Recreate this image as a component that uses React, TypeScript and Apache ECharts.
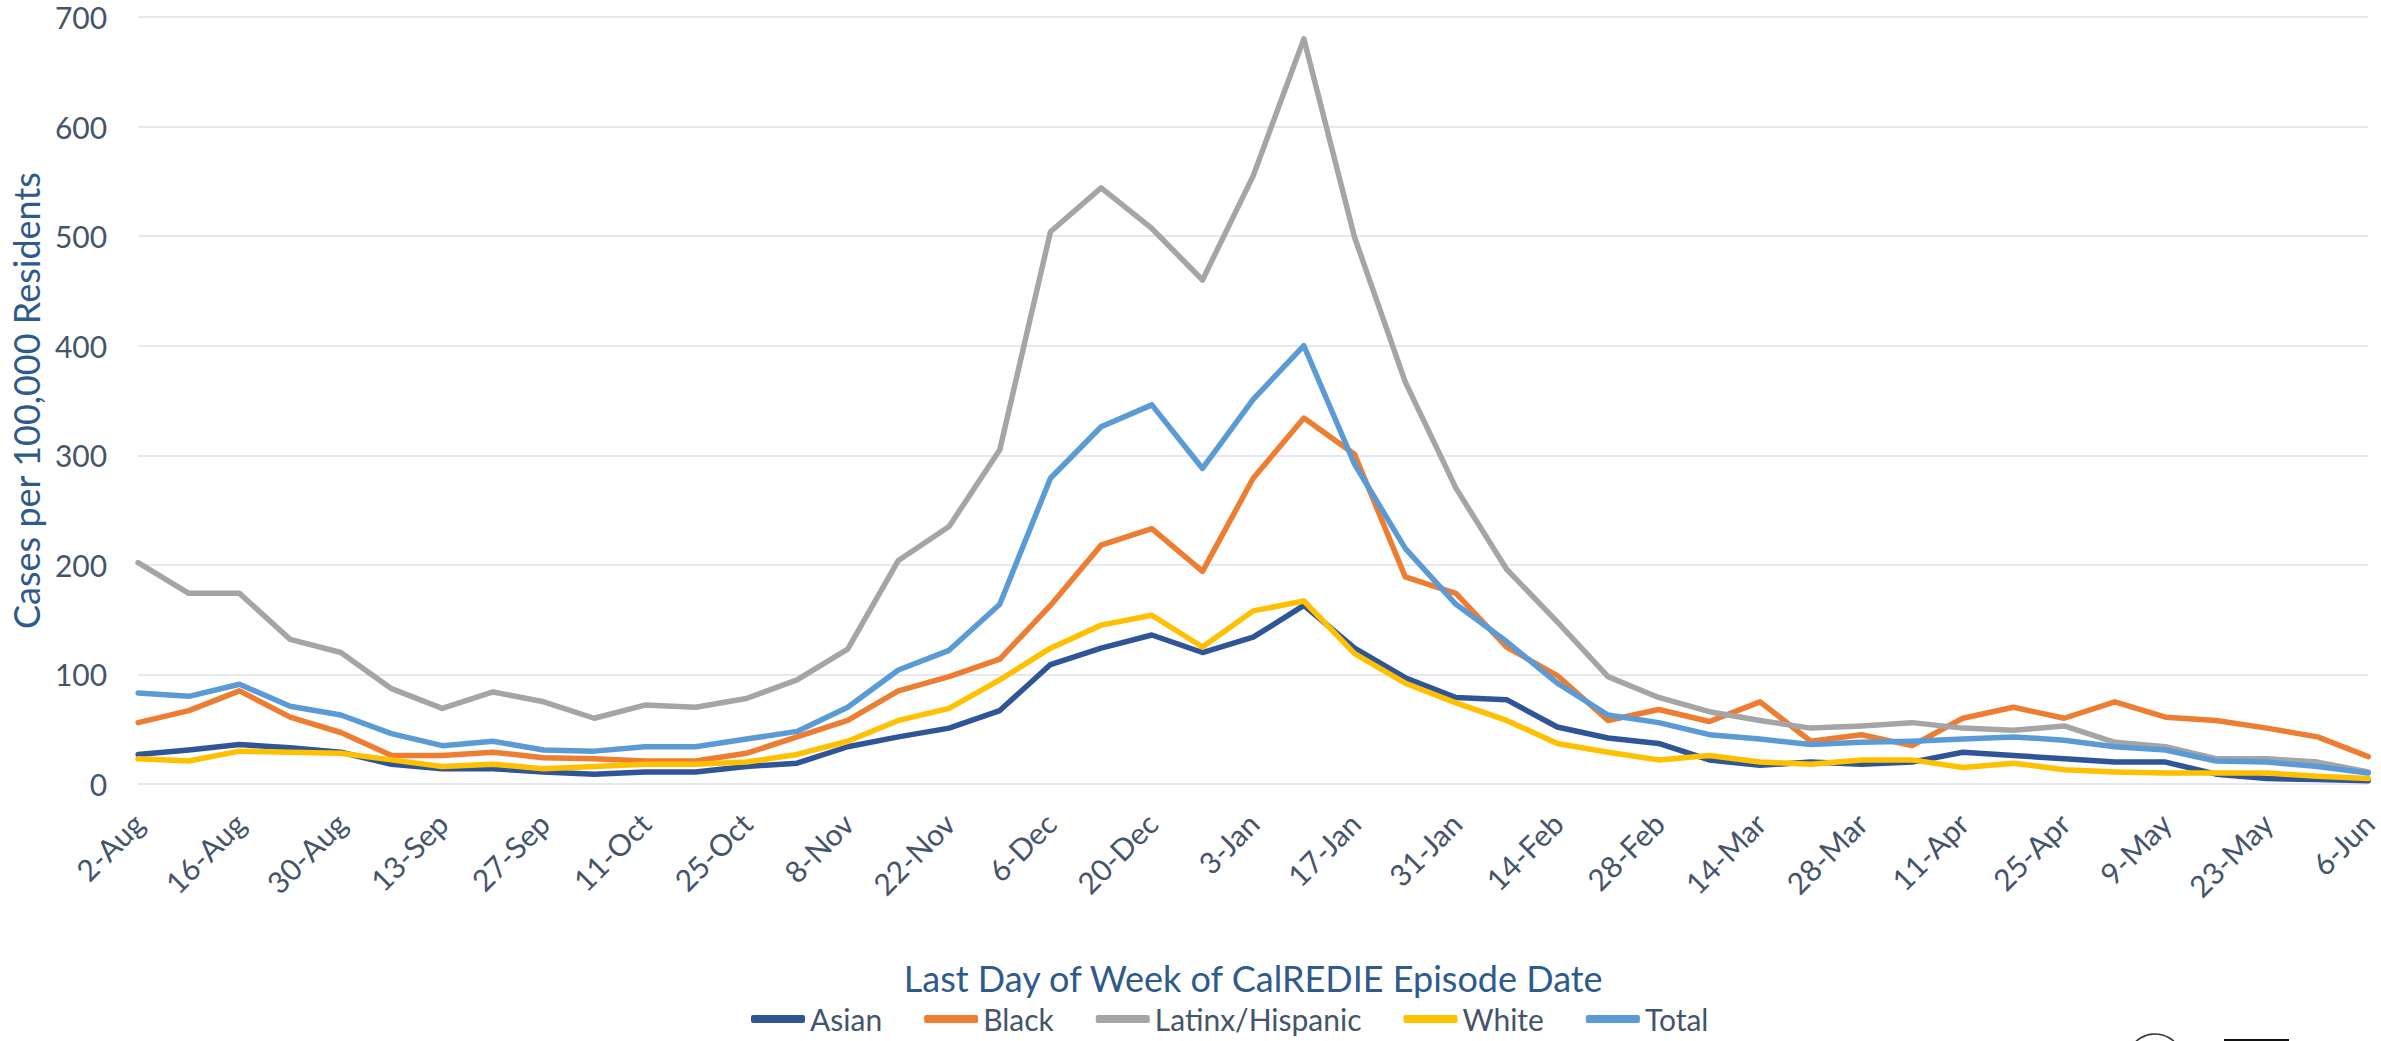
import React, { useEffect, useRef } from "react";
import * as echarts from "echarts";

const weeks = [
  "2-Aug", "9-Aug", "16-Aug", "23-Aug", "30-Aug", "6-Sep", "13-Sep", "20-Sep", "27-Sep",
  "4-Oct", "11-Oct", "18-Oct", "25-Oct", "1-Nov", "8-Nov", "15-Nov", "22-Nov", "29-Nov",
  "6-Dec", "13-Dec", "20-Dec", "27-Dec", "3-Jan", "10-Jan", "17-Jan", "24-Jan", "31-Jan",
  "7-Feb", "14-Feb", "21-Feb", "28-Feb", "7-Mar", "14-Mar", "21-Mar", "28-Mar", "4-Apr",
  "11-Apr", "18-Apr", "25-Apr", "2-May", "9-May", "16-May", "23-May", "30-May", "6-Jun",
];

const asian = [27, 31, 36, 33, 29, 18, 14, 14, 11, 9, 11, 11, 16, 19, 34, 43, 51, 67, 109, 124, 136, 120, 134, 163, 124, 97, 79, 77, 52, 42, 37, 22, 17, 20, 18, 20, 29, 26, 23, 20, 20, 9, 5, 4, 3];
const black = [56, 67, 85, 61, 47, 26, 26, 29, 24, 23, 21, 21, 28, 43, 58, 85, 98, 114, 163, 218, 233, 194, 279, 334, 301, 189, 174, 125, 99, 58, 68, 57, 75, 39, 45, 35, 60, 70, 60, 75, 61, 58, 51, 43, 25];
const latinx = [202, 174, 174, 132, 120, 87, 69, 84, 75, 60, 72, 70, 78, 95, 123, 204, 235, 305, 504, 544, 507, 460, 555, 680, 499, 367, 270, 196, 148, 98, 79, 66, 58, 51, 53, 56, 51, 49, 53, 38, 34, 23, 23, 20, 11];
const white = [23, 21, 30, 29, 28, 22, 16, 18, 14, 16, 18, 18, 20, 27, 39, 58, 69, 95, 124, 145, 154, 125, 158, 167, 119, 92, 74, 58, 37, 29, 22, 26, 20, 18, 22, 22, 15, 19, 13, 11, 10, 10, 10, 7, 5];
const total = [83, 80, 91, 71, 63, 46, 35, 39, 31, 30, 34, 34, 41, 48, 70, 104, 122, 164, 279, 326, 346, 288, 351, 400, 292, 215, 164, 130, 92, 63, 56, 45, 41, 36, 38, 39, 41, 43, 40, 34, 31, 21, 20, 16, 10];

const seriesNames = ["Asian", "Black", "Latinx/Hispanic", "White", "Total"];
const seriesColors = ["#2F5597", "#ED7D31", "#A5A5A5", "#FFC000", "#5B9BD5"];
const seriesData = [asian, black, latinx, white, total];

const FONT = "Lato, 'Open Sans', sans-serif";
const LABEL_COLOR = "#44546A";
const TITLE_COLOR = "#2E5A8C";

export default function App() {
  const ref = useRef<HTMLDivElement>(null);

  useEffect(() => {
    document.body.style.margin = "0";
    if (!ref.current) return;
    const chart = echarts.init(ref.current, null, { renderer: "svg" });
    chart.setOption({
      animation: false,
      backgroundColor: "#ffffff",
      textStyle: { fontFamily: FONT },
      grid: { left: 134, right: 8, top: 17, bottom: 257 },
      legend: {
        left: 746,
        top: 999,
        itemWidth: 54,
        itemHeight: 8,
        itemGap: 42,
        icon: "roundRect",
        textStyle: { fontSize: 30, color: LABEL_COLOR, fontFamily: FONT },
        data: seriesNames,
      },
      xAxis: {
        type: "category",
        data: weeks,
        boundaryGap: false,
        axisLine: { show: false },
        axisTick: { show: false },
        axisLabel: {
          interval: 1,
          rotate: 45,
          margin: 34,
          fontSize: 30,
          color: LABEL_COLOR,
          fontFamily: FONT,
        },
        name: "Last Day of Week of CalREDIE Episode Date",
        nameLocation: "middle",
        nameGap: 176,
        nameTextStyle: { fontSize: 36, color: TITLE_COLOR, fontFamily: FONT },
      },
      yAxis: {
        type: "value",
        min: 0,
        max: 700,
        interval: 100,
        axisLine: { show: false },
        axisTick: { show: false },
        splitLine: { lineStyle: { color: "#DCE2EA", width: 1.6 } },
        axisLabel: { fontSize: 30, color: LABEL_COLOR, margin: 31, fontFamily: FONT },
        name: "Cases per 100,000 Residents",
        nameLocation: "middle",
        nameGap: 92,
        nameTextStyle: { fontSize: 36, color: TITLE_COLOR, fontFamily: FONT },
      },
      series: seriesNames.map((name, i) => ({
        name,
        type: "line",
        data: seriesData[i],
        showSymbol: false,
        symbol: "none",
        lineStyle: { width: 5.5, color: seriesColors[i], cap: "round", join: "round" },
        itemStyle: { color: seriesColors[i] },
      })),
      graphic: [
        {
          type: "circle",
          shape: { cx: 2155, cy: 1062, r: 28 },
          style: { fill: "none", stroke: "#333", lineWidth: 1.5 },
          silent: true,
        },
        {
          type: "rect",
          shape: { x: 2224, y: 1039, width: 65, height: 2 },
          style: { fill: "#111" },
          silent: true,
        },
      ],
    });
    return () => chart.dispose();
  }, []);

  return <div ref={ref} style={{ width: 2381, height: 1041 }} />;
}
